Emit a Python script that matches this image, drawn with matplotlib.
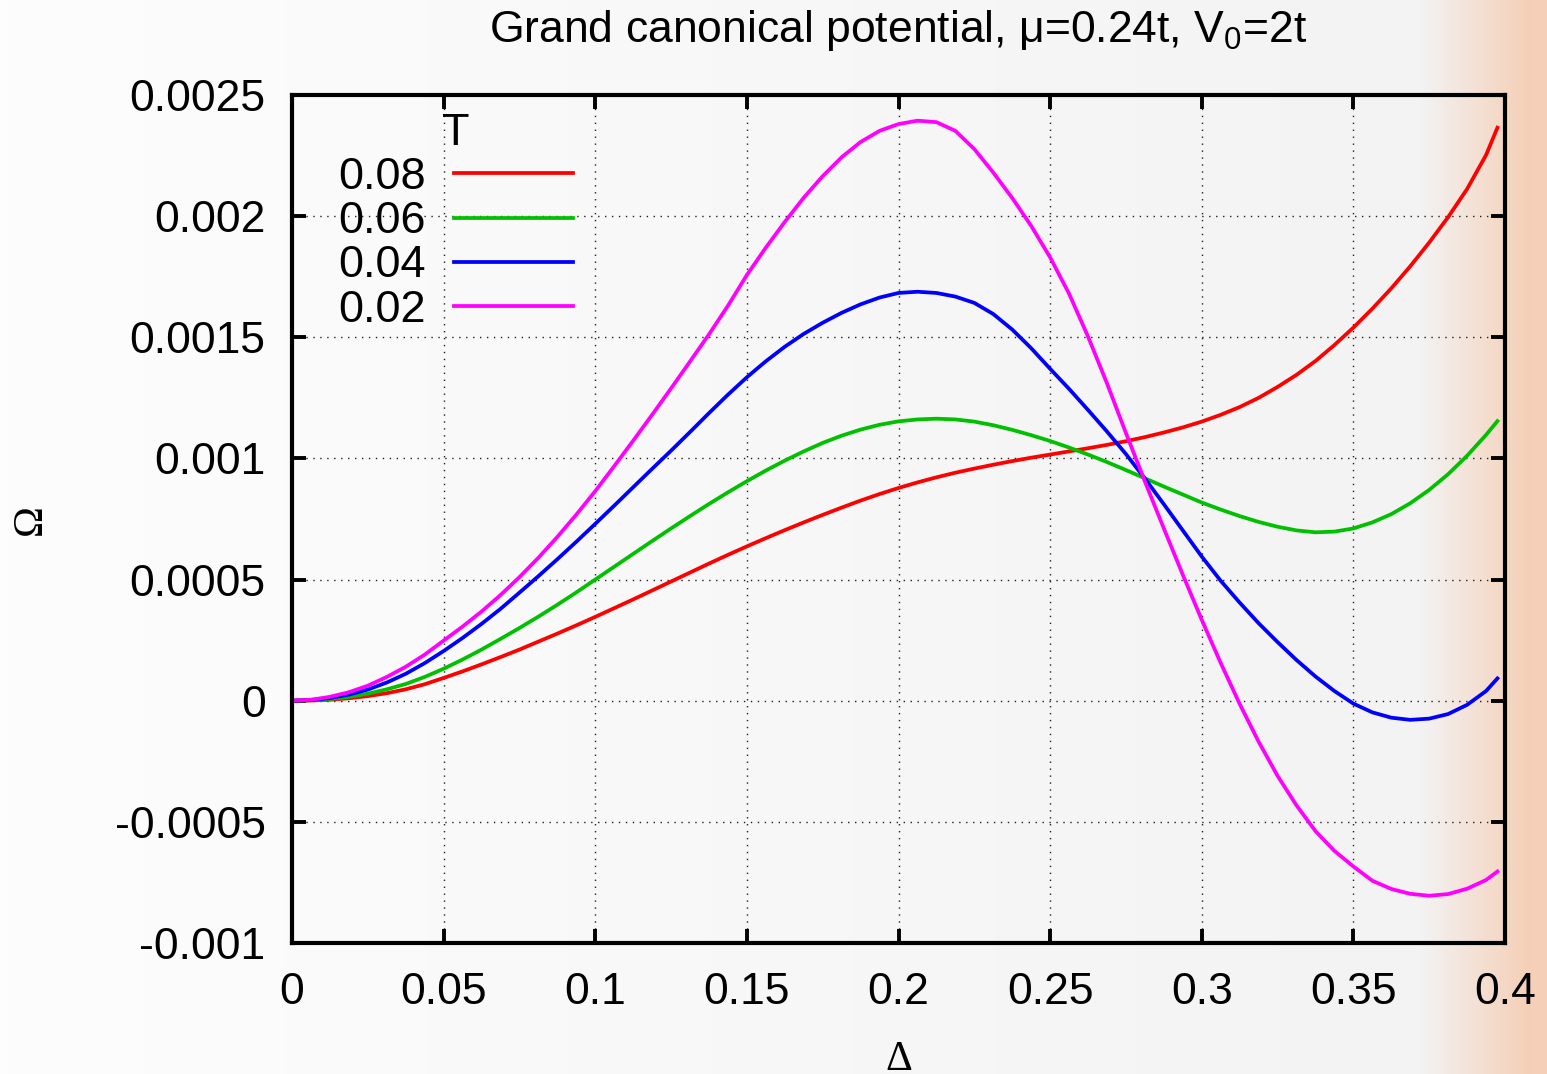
import numpy as np
import matplotlib
matplotlib.use("Agg")
import matplotlib.pyplot as plt
from matplotlib.ticker import FixedLocator, FixedFormatter

plt.rcParams['font.family'] = ['Liberation Sans', 'DejaVu Sans']
plt.rcParams['mathtext.fontset'] = 'custom'
plt.rcParams['mathtext.rm'] = 'Liberation Sans'

# ---- data ----
delta = [0.0, 0.00625, 0.0125, 0.01875, 0.025, 0.03125, 0.0375, 0.04375,
         0.05, 0.05625, 0.0625, 0.06875, 0.075, 0.08125, 0.0875, 0.09375,
         0.1, 0.10625, 0.1125, 0.11875, 0.125, 0.13125, 0.1375, 0.14375,
         0.15, 0.15625, 0.1625, 0.16875, 0.175, 0.18125, 0.1875, 0.19375,
         0.2, 0.20625, 0.2125, 0.21875, 0.225, 0.23125, 0.2375, 0.24375,
         0.25, 0.25625, 0.2625, 0.26875, 0.275, 0.28125, 0.2875, 0.29375,
         0.3, 0.30625, 0.3125, 0.31875, 0.325, 0.33125, 0.3375, 0.34375,
         0.35, 0.35625, 0.3625, 0.36875, 0.375, 0.38125, 0.3875, 0.39375,
         0.3975]

omega_T008 = [0.0, 0.000001, 0.000004, 0.000010, 0.000019, 0.000031, 0.000047, 0.000068,
              0.000094, 0.000121, 0.000150, 0.000180, 0.000211, 0.000244, 0.000277, 0.000311,
              0.000346, 0.000382, 0.000418, 0.000455, 0.000492, 0.000529, 0.000566, 0.000602,
              0.000637, 0.000671, 0.000704, 0.000736, 0.000767, 0.000797, 0.000826, 0.000853,
              0.000878, 0.000901, 0.000922, 0.000941, 0.000958, 0.000974, 0.000989, 0.001003,
              0.001016, 0.001029, 0.001042, 0.001056, 0.001071, 0.001088, 0.001107, 0.001128,
              0.001152, 0.001180, 0.001212, 0.001250, 0.001295, 0.001345, 0.001402, 0.001468,
              0.001540, 0.001618, 0.001702, 0.001793, 0.001891, 0.001996, 0.002112, 0.002252,
              0.002365]

omega_T006 = [0.0, 0.000002, 0.000007, 0.000016, 0.000029, 0.000047, 0.000069, 0.000098,
              0.000132, 0.000170, 0.000211, 0.000255, 0.000300, 0.000347, 0.000396, 0.000447,
              0.000500, 0.000553, 0.000606, 0.000659, 0.000711, 0.000762, 0.000812, 0.000860,
              0.000906, 0.000950, 0.000991, 0.001029, 0.001064, 0.001094, 0.001119, 0.001139,
              0.001153, 0.001161, 0.001164, 0.001161, 0.001152, 0.001137, 0.001118, 0.001096,
              0.001072, 0.001045, 0.001016, 0.000985, 0.000952, 0.000918, 0.000884, 0.000851,
              0.000818, 0.000789, 0.000762, 0.000738, 0.000718, 0.000703, 0.000695, 0.000698,
              0.000711, 0.000736, 0.000770, 0.000815, 0.000870, 0.000935, 0.001011, 0.001097,
              0.001154]

omega_T004 = [0.0, 0.000003, 0.000011, 0.000025, 0.000046, 0.000075, 0.000111, 0.000155,
              0.000205, 0.000259, 0.000317, 0.000379, 0.000446, 0.000514, 0.000584, 0.000656,
              0.000730, 0.000805, 0.000881, 0.000957, 0.001032, 0.001109, 0.001187, 0.001263,
              0.001335, 0.001401, 0.001461, 0.001514, 0.001560, 0.001601, 0.001636, 0.001664,
              0.001683, 0.001688, 0.001683, 0.001668, 0.001642, 0.001596, 0.001532, 0.001455,
              0.001370, 0.001287, 0.001200, 0.001111, 0.001018, 0.000917, 0.000811, 0.000703,
              0.000595, 0.000495, 0.000405, 0.000320, 0.000242, 0.000168, 0.000100, 0.000040,
              -0.000012, -0.000048, -0.000070, -0.000079, -0.000074, -0.000055, -0.000017, 0.000040,
              0.000092]

omega_T002 = [0.0, 0.000004, 0.000016, 0.000035, 0.000062, 0.000098, 0.000140, 0.000190,
              0.000248, 0.000306, 0.000368, 0.000436, 0.000510, 0.000590, 0.000676, 0.000768,
              0.000865, 0.000968, 0.001073, 0.001180, 0.001289, 0.001400, 0.001512, 0.001630,
              0.001757, 0.001870, 0.001976, 0.002076, 0.002165, 0.002243, 0.002306, 0.002352,
              0.002380, 0.002394, 0.002388, 0.002352, 0.002277, 0.002180, 0.002075, 0.001960,
              0.001830, 0.001680, 0.001503, 0.001310, 0.001105, 0.000905, 0.000711, 0.000520,
              0.000334, 0.000156, -0.000013, -0.000169, -0.000310, -0.000432, -0.000538, -0.000620,
              -0.000684, -0.000743, -0.000777, -0.000797, -0.000805, -0.000798, -0.000776, -0.000740,
              -0.000705]

series_labels = ['0.08', '0.06', '0.04', '0.02']
series_colors = ['#ff0000', '#00c000', '#0000ff', '#ff00ff']

x_ticks = [0, 0.05, 0.1, 0.15, 0.2, 0.25, 0.3, 0.35, 0.4]
x_ticklabels = ['0', '0.05', '0.1', '0.15', '0.2', '0.25', '0.3', '0.35', '0.4']
y_ticks = [-0.001, -0.0005, 0, 0.0005, 0.001, 0.0015, 0.002, 0.0025]
y_ticklabels = ['-0.001', '-0.0005', '0', '0.0005', '0.001', '0.0015', '0.002', '0.0025']

W, H = 1547, 1074
fig = plt.figure(figsize=(W / 100, H / 100), dpi=100)

# background gradient (light grey to peach at the right edge)
grad = np.zeros((1, W, 3))
for i in range(W):
    if i < 1420:
        t = i / 1420
        c = [253 + (243 - 253) * t] * 3
    else:
        t = min(1.0, (i - 1420) / 110)
        c = [243 + 2 * t, 243 - 36 * t, 243 - 60 * t]
    grad[0, i] = np.array(c) / 255.0
bg = fig.add_axes([0, 0, 1, 1], zorder=0)
bg.imshow(grad, aspect='auto', extent=[0, 1, 0, 1])
bg.set_axis_off()

ax = fig.add_axes([292 / W, 1 - 943 / H, (1505 - 292) / W, (943 - 95) / H], zorder=1)
ax.set_facecolor('none')

all_series = [omega_T008, omega_T006, omega_T004, omega_T002]
for vals, lab, col in zip(all_series, series_labels, series_colors):
    ax.plot(delta, vals, color=col, lw=2.7, label=lab, solid_joinstyle='round')

ax.set_xlim(0, 0.4)
ax.set_ylim(-0.001, 0.0025)
ax.xaxis.set_major_locator(FixedLocator(x_ticks))
ax.xaxis.set_major_formatter(FixedFormatter(x_ticklabels))
ax.yaxis.set_major_locator(FixedLocator(y_ticks))
ax.yaxis.set_major_formatter(FixedFormatter(y_ticklabels))

ax.tick_params(direction='in', length=10, width=2.8, labelsize=32, pad=19,
               top=True, right=True)
ax.tick_params(axis='x', pad=21)
for sp in ax.spines.values():
    sp.set_linewidth(3)

ax.grid(True, color='#202020', lw=1.0, linestyle=(0, (1, 4)))

ax.set_title('Grand canonical potential, μ=0.24t, $\\mathregular{V_0}$=2t',
             fontsize=32, pad=38)

serif = ['Liberation Serif', 'DejaVu Serif']
fig.text(31 / W, 1 - 520 / H, 'Ω', fontsize=30, family=serif, rotation=90,
         ha='center', va='center')
fig.text(899 / W, 1 - 1070 / H, 'Δ', fontsize=30, family=serif,
         ha='center', va='baseline')

leg = ax.legend(title='T', title_fontsize=32.5, fontsize=32.5, frameon=False,
                markerfirst=False, handlelength=2.64, handletextpad=0.62,
                labelspacing=0.07, borderpad=0, borderaxespad=0,
                loc='upper left', bbox_to_anchor=(338 / W, 1 - 113 / H),
                bbox_transform=fig.transFigure)

fig.savefig('out.png', dpi=100)
